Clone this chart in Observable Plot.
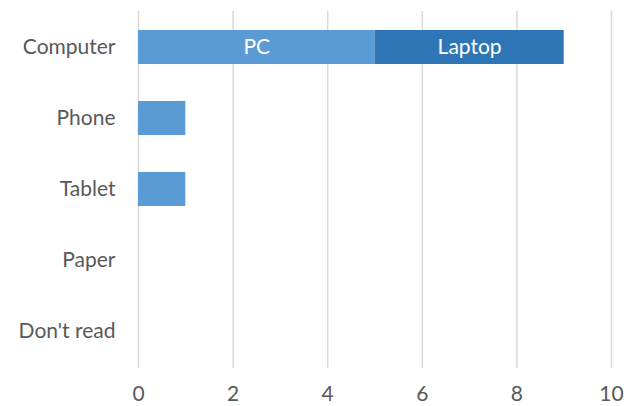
<!DOCTYPE html>
<html>
<head>
<meta charset="utf-8">
<script src="https://cdn.jsdelivr.net/npm/d3@7"></script>
<script src="https://cdn.jsdelivr.net/npm/@observablehq/plot@0.6"></script>
<style>
  body { margin: 0; background: #fff; }
  #chart svg { display: block; }
</style>
</head>
<body>
<div id="chart"></div>
<script>
const categories = ["Computer", "Phone", "Tablet", "Paper", "Don't read"];
const pcValues = [5, 1, 1, 0, 0];
const laptopValues = [4, 0, 0, 0, 0];
const seriesNames = ["PC", "Laptop"];
const seriesColors = ["#5B9BD5", "#2E75B6"];
const labeledCategory = "Computer";
const xTicks = [0, 2, 4, 6, 8, 10];

const rows = [];
categories.forEach((c, i) => {
  rows.push({category: c, series: "PC", value: pcValues[i]});
  rows.push({category: c, series: "Laptop", value: laptopValues[i]});
});
const font = "Lato, 'Open Sans', sans-serif";

const chart = Plot.plot({
  width: 633,
  height: 406,
  marginTop: 11,
  marginBottom: 38,
  marginLeft: 138,
  marginRight: 22,
  style: {fontFamily: font, fontSize: "21px", color: "#595959", background: "#fff"},
  x: {domain: [0, 10], ticks: xTicks, grid: false, label: null},
  y: {domain: categories, paddingInner: 0.52, paddingOuter: 0.26, label: null},
  color: {domain: seriesNames, range: seriesColors},
  marks: [
    Plot.ruleX(xTicks, {stroke: "#D9D9D9", strokeWidth: 1.5}),
    Plot.barX(rows, Plot.stackX({y: "category", x: "value", fill: "series", order: seriesNames})),
    Plot.text(rows.filter(d => d.category === labeledCategory), Plot.stackX({
      y: "category", x: "value", z: "series", order: seriesNames, text: "series",
      fill: "white", fontSize: 21, fontFamily: font
    })),
    Plot.axisX({ticks: xTicks, tickSize: 0, tickPadding: 18, fontSize: 21, fill: "#595959", label: null}),
    Plot.axisY({tickSize: 0, tickPadding: 23, fontSize: 21, fill: "#595959", label: null})
  ]
});
document.getElementById("chart").appendChild(chart);
</script>
</body>
</html>
